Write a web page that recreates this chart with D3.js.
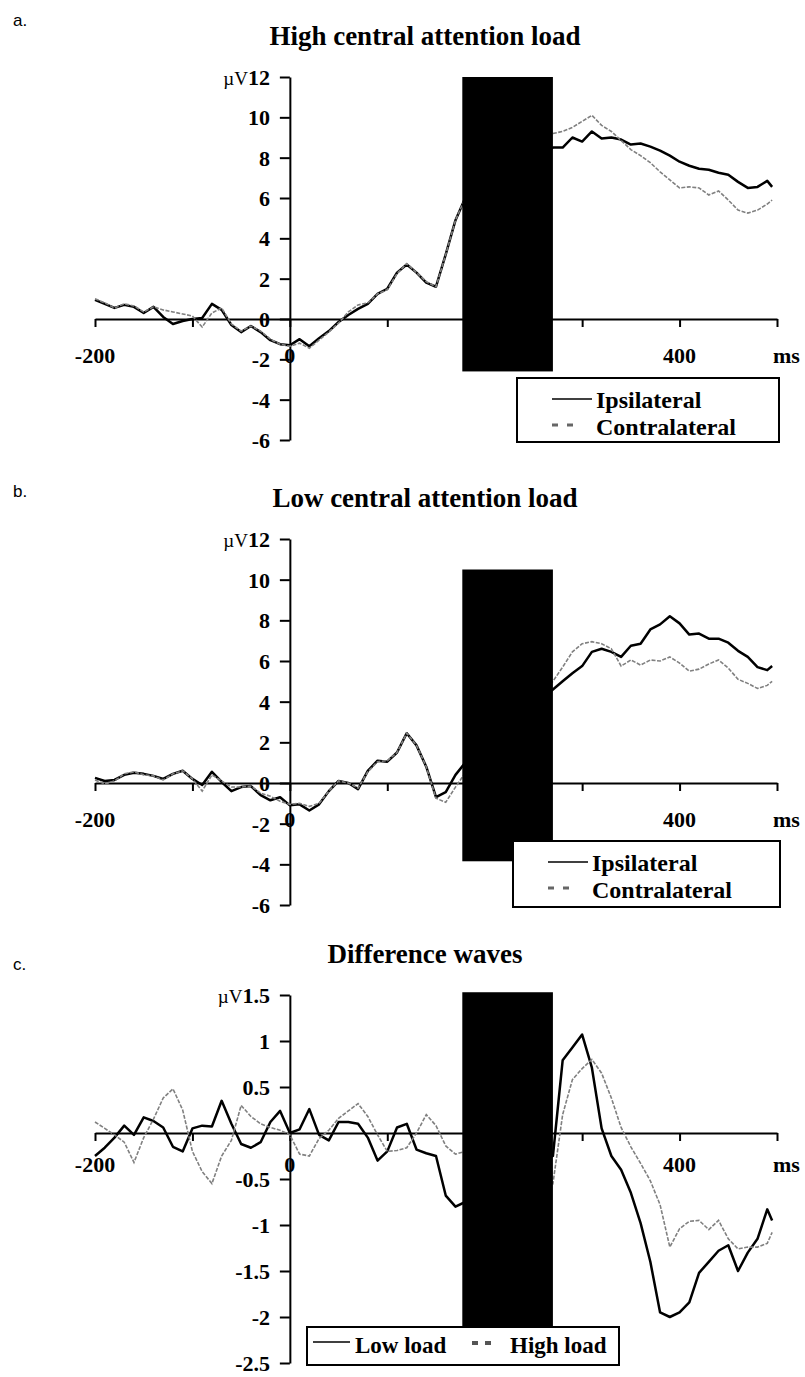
<!DOCTYPE html>
<html>
<head>
<meta charset="utf-8">
<script src="https://cdn.jsdelivr.net/npm/d3@7"></script>
<style>
  body { margin: 0; background: #fff; }
  svg { display: block; }
</style>
</head>
<body>
<div id="chart"></div>
<script>
// sample times (ms); the gap 190..260 sits under the black mask
const times = [-200,-190,-180,-170,-160,-150,-140,-130,-120,-110,-100,-90,-80,-70,-60,-50,-40,-30,-20,-10,
  0,10,20,30,40,50,60,70,80,90,100,110,120,130,140,150,160,170,180,
  270,280,290,300,310,320,330,340,350,360,370,380,390,400,410,420,430,440,450,460,470,480,490,495];

const xTicks = [-200,-100,0,100,200,300,400,500];
const xLabels = [-200, 0, 400];
const maskTimes = [177, 270];

// a. High central attention load
const aIpsi = [0.95,0.75,0.55,0.7,0.6,0.3,0.6,0.1,-0.25,-0.1,0.0,0.05,0.75,0.45,-0.3,-0.65,-0.35,-0.65,-1.05,-1.25,
  -1.3,-1.0,-1.35,-0.95,-0.6,-0.15,0.2,0.5,0.75,1.25,1.5,2.3,2.7,2.3,1.8,1.6,3.2,4.9,6.0,
  8.5,8.5,9.0,8.8,9.3,8.95,9.0,8.9,8.65,8.7,8.55,8.35,8.1,7.8,7.6,7.45,7.4,7.25,7.15,6.8,6.5,6.55,6.85,6.55];
const aContra = [1.0,0.8,0.55,0.75,0.65,0.35,0.6,0.45,0.35,0.25,0.15,-0.4,0.3,0.55,-0.25,-0.6,-0.35,-0.6,-1.0,-1.25,
  -1.35,-1.2,-1.45,-1.05,-0.65,-0.2,0.35,0.7,0.8,1.25,1.45,2.25,2.75,2.3,1.85,1.6,3.2,4.9,6.0,
  9.2,9.3,9.5,9.8,10.1,9.6,9.3,8.85,8.4,8.1,7.75,7.3,6.9,6.5,6.55,6.5,6.15,6.35,5.9,5.4,5.25,5.4,5.7,5.9];
const aTicks = [12,10,8,6,4,2,0,-2,-4,-6];
const aMask = [12, -2.6];

// b. Low central attention load
const bIpsi = [0.25,0.1,0.15,0.4,0.5,0.45,0.35,0.2,0.45,0.6,0.2,-0.1,0.55,0.05,-0.4,-0.2,-0.15,-0.6,-0.85,-0.7,
  -1.1,-1.05,-1.35,-1.05,-0.4,0.1,0.0,-0.3,0.6,1.1,1.05,1.5,2.45,1.85,0.8,-0.7,-0.45,0.4,1.0,
  4.6,5.0,5.4,5.75,6.45,6.6,6.45,6.2,6.75,6.85,7.55,7.8,8.2,7.85,7.3,7.35,7.1,7.1,6.9,6.5,6.2,5.7,5.55,5.75];
const bContra = [0.15,-0.05,0.1,0.45,0.55,0.4,0.35,0.15,0.45,0.6,0.2,-0.4,0.4,0.1,-0.2,-0.2,-0.15,-0.5,-0.65,-0.9,
  -1.05,-1.0,-1.15,-1.0,-0.4,0.1,0.0,-0.25,0.55,1.05,1.1,1.5,2.45,1.85,0.8,-0.75,-0.95,-0.2,0.5,
  5.0,5.7,6.45,6.85,6.95,6.85,6.6,5.75,6.05,5.8,6.05,6.0,6.2,5.9,5.5,5.6,5.85,6.05,5.65,5.1,4.9,4.65,4.8,5.0];
const bTicks = [12,10,8,6,4,2,0,-2,-4,-6];
const bMask = [10.5, -3.85];

// c. Difference waves
const cLow = [-0.25,-0.16,-0.05,0.08,-0.02,0.17,0.13,0.06,-0.15,-0.2,0.05,0.08,0.07,0.35,0.1,-0.12,-0.16,-0.1,0.12,0.24,
  0.0,0.04,0.26,-0.02,-0.08,0.12,0.12,0.1,-0.05,-0.3,-0.2,0.06,0.1,-0.18,-0.22,-0.25,-0.68,-0.8,-0.75,
  -0.25,0.79,0.93,1.07,0.71,0.05,-0.25,-0.4,-0.65,-0.98,-1.4,-1.95,-2.0,-1.95,-1.84,-1.52,-1.4,-1.28,-1.22,-1.5,-1.3,-1.15,-0.83,-0.95];
const cHigh = [0.12,0.05,-0.02,-0.1,-0.32,-0.05,0.15,0.38,0.48,0.25,-0.2,-0.42,-0.55,-0.25,-0.08,0.3,0.18,0.1,0.06,0.03,
  -0.02,-0.23,-0.25,-0.06,0.03,0.16,0.24,0.32,0.18,-0.02,-0.2,-0.19,-0.16,0.0,0.2,0.08,-0.14,-0.23,-0.2,
  -0.55,0.2,0.58,0.7,0.8,0.65,0.38,0.06,-0.15,-0.33,-0.52,-0.78,-1.24,-1.04,-0.96,-0.95,-1.05,-0.95,-1.15,-1.26,-1.24,-1.24,-1.2,-1.08];
const cTicks = [1.5,1,0.5,-0.5,-1,-1.5,-2,-2.5];
const cMask = [1.53, -2.1];

const SERIF = "'Liberation Serif', 'Times New Roman', serif";
const SANS = "'Liberation Sans', Arial, sans-serif";

const svg = d3.select("#chart").append("svg")
  .attr("width", 805)
  .attr("height", 1377);

const x = d3.scaleLinear().domain([-200, 500]).range([95, 777]);

const panels = [
  { letter: "a.", title: "High central attention load", ipsi: aIpsi, contra: aContra, ticks: aTicks, mask: aMask,
    domain: [-6, 12], range: [440, 77], letterY: 26, titleY: 45, labelDy: 44, unit: "12",
    legend: { x: 517, y: 378, w: 262, h: 64, names: ["Ipsilateral", "Contralateral"], size: 24, rows: true } },
  { letter: "b.", title: "Low central attention load", ipsi: bIpsi, contra: bContra, ticks: bTicks, mask: bMask,
    domain: [-6, 12], range: [905, 539], letterY: 497, titleY: 507, labelDy: 44, unit: "12",
    legend: { x: 513, y: 841, w: 267, h: 66, names: ["Ipsilateral", "Contralateral"], size: 24, rows: true } },
  { letter: "c.", title: "Difference waves", ipsi: cLow, contra: cHigh, ticks: cTicks, mask: cMask,
    domain: [-2.5, 1.5], range: [1363, 995], letterY: 970, titleY: 963, labelDy: 39, unit: "1.5",
    legend: { x: 307, y: 1327, w: 312, h: 38, names: ["Low load", "High load"], size: 23, rows: false } }
];

panels.forEach(p => {
  const y = d3.scaleLinear().domain(p.domain).range(p.range);
  const g = svg.append("g");
  const y0 = y(0);

  // panel letter and title
  g.append("text").attr("x", 13).attr("y", p.letterY)
    .attr("font-family", SANS).attr("font-size", 17)
    .text(p.letter);
  g.append("text").attr("x", 425).attr("y", p.titleY)
    .attr("text-anchor", "middle")
    .attr("font-family", SERIF).attr("font-size", 27).attr("font-weight", "bold")
    .text(p.title);

  // y axis
  const yAxis = g.append("g")
    .attr("transform", `translate(${x(0)},0)`)
    .call(d3.axisLeft(y).tickValues(p.ticks).tickSize(10).tickSizeOuter(0).tickFormat(""));
  yAxis.select(".domain").attr("stroke-width", 2);
  yAxis.selectAll(".tick line").attr("stroke-width", 2);

  p.ticks.forEach(v => {
    const t = g.append("text")
      .attr("x", 270).attr("y", y(v) + 8)
      .attr("text-anchor", "end")
      .attr("font-family", SERIF).attr("font-size", 22).attr("font-weight", "bold");
    if (v === p.domain[1]) {
      t.append("tspan").attr("font-size", 19).attr("font-weight", "normal").text("\u00b5V");
      t.append("tspan").text(p.unit);
    } else {
      t.text(String(v));
    }
  });

  // x axis at zero
  const xAxis = g.append("g")
    .attr("transform", `translate(0,${y0})`)
    .call(d3.axisBottom(x).tickValues(xTicks).tickSize(8).tickSizeOuter(0).tickFormat(""));
  xAxis.select(".domain").attr("stroke-width", 2);
  xAxis.selectAll(".tick line").attr("stroke-width", 2);

  xLabels.forEach(t => {
    g.append("text")
      .attr("x", x(t)).attr("y", y0 + p.labelDy)
      .attr("text-anchor", "middle")
      .attr("font-family", SERIF).attr("font-size", 22).attr("font-weight", "bold")
      .text(String(t));
  });
  g.append("text")
    .attr("x", 773).attr("y", y0 + p.labelDy)
    .attr("font-family", SERIF).attr("font-size", 22).attr("font-weight", "bold")
    .text("ms");

  // waveforms
  const line = d3.line()
    .x((d, i) => x(times[i]))
    .y(d => y(d));

  g.append("path")
    .datum(p.ipsi)
    .attr("d", line)
    .attr("fill", "none")
    .attr("stroke", "#000")
    .attr("stroke-width", 2.5)
    .attr("stroke-linejoin", "round");

  g.append("path")
    .datum(p.contra)
    .attr("d", line)
    .attr("fill", "none")
    .attr("stroke", "#808080")
    .attr("stroke-width", 1.6)
    .attr("stroke-dasharray", "4,1.5");

  // black mask over the stimulus window
  g.append("rect")
    .attr("x", x(maskTimes[0]))
    .attr("y", y(p.mask[0]))
    .attr("width", x(maskTimes[1]) - x(maskTimes[0]))
    .attr("height", y(p.mask[1]) - y(p.mask[0]))
    .attr("fill", "#000");

  // legend
  const L = p.legend;
  const lg = g.append("g");
  lg.append("rect")
    .attr("x", L.x).attr("y", L.y).attr("width", L.w).attr("height", L.h)
    .attr("fill", "#fff").attr("stroke", "#000").attr("stroke-width", 2);

  if (L.rows) {
    lg.append("line").attr("x1", L.x + 35).attr("x2", L.x + 75)
      .attr("y1", L.y + 21).attr("y2", L.y + 21)
      .attr("stroke", "#000").attr("stroke-width", 1.5);
    lg.append("line").attr("x1", L.x + 35).attr("x2", L.x + 57)
      .attr("y1", L.y + 47).attr("y2", L.y + 47)
      .attr("stroke", "#666").attr("stroke-width", 3).attr("stroke-dasharray", "6,9");
    lg.append("text").attr("x", L.x + 79).attr("y", L.y + 30)
      .attr("font-family", SERIF).attr("font-size", L.size).attr("font-weight", "bold")
      .text(L.names[0]);
    lg.append("text").attr("x", L.x + 79).attr("y", L.y + 57)
      .attr("font-family", SERIF).attr("font-size", L.size).attr("font-weight", "bold")
      .text(L.names[1]);
  } else {
    lg.append("line").attr("x1", L.x + 6).attr("x2", L.x + 43)
      .attr("y1", L.y + 15).attr("y2", L.y + 15)
      .attr("stroke", "#000").attr("stroke-width", 1.5);
    lg.append("text").attr("x", L.x + 48).attr("y", L.y + 26)
      .attr("font-family", SERIF).attr("font-size", L.size).attr("font-weight", "bold")
      .text(L.names[0]);
    lg.append("line").attr("x1", L.x + 165).attr("x2", L.x + 185)
      .attr("y1", L.y + 16).attr("y2", L.y + 16)
      .attr("stroke", "#555").attr("stroke-width", 4).attr("stroke-dasharray", "6,7");
    lg.append("text").attr("x", L.x + 203).attr("y", L.y + 26)
      .attr("font-family", SERIF).attr("font-size", L.size).attr("font-weight", "bold")
      .text(L.names[1]);
  }
});
</script>
</body>
</html>
